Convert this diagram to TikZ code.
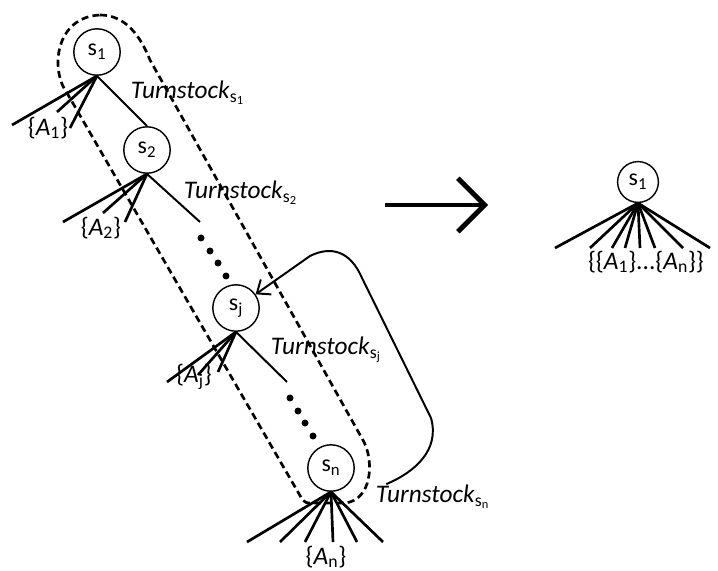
\documentclass[tikz,border=0pt]{standalone}
\usepackage{fontspec}
\setmainfont{Carlito}
\usetikzlibrary{arrows.meta}

\tikzset{
  state/.style={draw, circle, line width=1pt, minimum size=33pt, inner sep=0pt,
    font=\fontsize{17}{19}\selectfont},
  fan/.style={line width=1.9pt},
  lbl/.style={font=\fontsize{18}{20}\selectfont, inner sep=0pt},
  group/.style={line width=1.9pt, dash pattern=on 5pt off 3pt},
}

\begin{document}
\begin{tikzpicture}[x=0.025cm, y=-0.025cm, >={Straight Barb[length=8pt,width=13pt]}, line width=1.4pt]
\useasboundingbox (0,0) rectangle (718,571);

% chain of states
\node [state] (s-1) at (97,52) {s\textsubscript{1}};
\node [state] (s-2) at (147,150) {s\textsubscript{2}};
\node [state] (s-j) at (236,308) {s\textsubscript{j}};
\node [state] (s-n) at (331,468) {s\textsubscript{n}};

% merged state
\node [state, minimum size=29pt] (s-r) at (638,182) {s\textsubscript{1}};

% dashed group round the chain
\draw [group] (100,15) .. controls (125,15) and (140,35) .. (150,60)
  -- (364,442) .. controls (374,462) and (372,500) .. (345,503)
  -- (312,503) .. controls (306,503) .. (302,499)
  -- (67,93) .. controls (50,70) and (55,17) .. (100,15) -- cycle;

\coordinate (e-2) at (200,222);
\coordinate (e-j) at (287,382);
\draw (s-1.south) -- (s-2.north);
\draw (s-2.south) -- (e-2);
\draw (s-j.south) -- (e-j);

\foreach \a/\b in {201/238,210/251,218/263,226/276,290/398,298/411,305/423,313/436}
  \fill (\a,\b) circle (3.5);

% fans of actions
\foreach \a/\b in {12/125,57/112,70/128}
  \draw [fan] (s-1.south) -- (\a,\b);
\foreach \a/\b in {63/222,103/213,125/222}
  \draw [fan] (s-2.south) -- (\a,\b);
\foreach \a/\b in {167/382,198/375,218/372}
  \draw [fan] (s-j.south) -- (\a,\b);
\foreach \a in {247,280,305,333,357,383}
  \draw [fan] (s-n.south) -- (\a,542);
\foreach \a in {555,590,612,625,640,655,683,710}
  \draw [fan] (s-r.south) -- (\a,248);

\node [lbl] (a-1) at (48,128) {\{\textit{A}\textsubscript{1}\}};
\node [lbl] (a-2) at (101,228) {\{\textit{A}\textsubscript{2}\}};
\node [lbl] (a-j) at (194,377) {\{\textit{A}\textsubscript{j}\}};
\node [lbl] (a-n) at (326,557) {\{\textit{A}\textsubscript{n}\}};
\node [lbl] (a-r) at (646,262) {\{\{\textit{A}\textsubscript{1}\}...\{\textit{A}\textsubscript{n}\}\}};

\node [lbl, anchor=west] (t-1) at (130,93) {\textit{Turnstock}\textsubscript{s\textsubscript{1}}};
\node [lbl, anchor=west] (t-2) at (183,193) {\textit{Turnstock}\textsubscript{s\textsubscript{2}}};
\node [lbl, anchor=west] (t-j) at (270,350) {\textit{Turnstock}\textsubscript{s\textsubscript{j}}};
\node [lbl, anchor=west] (t-n) at (375,497) {\textit{Turnstock}\textsubscript{s\textsubscript{n}}};

% back to s_j
\draw [->] ([xshift=8]t-n.north west) .. controls (415,472) and (440,450) .. (431,418)
  -- (362,278) .. controls (350,250) and (330,246) .. (310,256) -- (s-j.35);

% merge arrow
\coordinate (m-a) at (385,205);
\coordinate (m-b) at (488,205);
\draw [line width=3.5pt, -{Straight Barb[length=19pt,width=38pt]}] (m-a) -- (m-b);
\end{tikzpicture}
\end{document}
